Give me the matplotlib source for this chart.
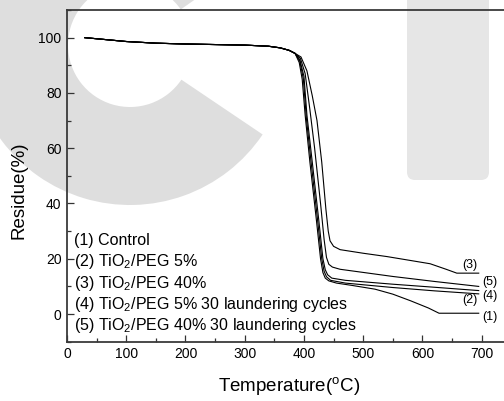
import matplotlib
matplotlib.use("Agg")
import matplotlib.pyplot as plt
from matplotlib.patches import Wedge, FancyBboxPatch
from matplotlib.ticker import MultipleLocator

plt.rcParams['font.family'] = ['Liberation Sans', 'DejaVu Sans']
plt.rcParams['mathtext.default'] = 'regular'

# ---- data ----
t_start = [30, 60, 100, 150, 200, 250, 300, 340, 360, 375, 385]
r_start = [100, 99.4, 98.6, 98.0, 97.7, 97.5, 97.3, 96.9, 96.3, 95.4, 94.3]

t1 = [392, 397, 402, 410, 421, 428, 432, 436, 442, 455, 480, 520, 550, 580, 610, 628, 695]
r1 = [91.0, 85.0, 72.0, 55.0, 34.0, 20.0, 15.0, 13.0, 12.0, 11.2, 10.4, 9.0, 7.2, 4.8, 2.2, 0.3, 0.3]

t2 = [393, 399, 404, 412, 423, 430, 434, 438, 445, 470, 550, 620, 695]
r2 = [91.5, 85.0, 71.0, 55.0, 34.0, 20.0, 15.5, 13.5, 12.2, 11.2, 9.6, 8.4, 7.3]

t3 = [395, 405, 414, 422, 430, 437, 441, 444, 450, 461, 500, 540, 585, 613, 640, 658, 695]
r3 = [93.0, 88.0, 79.0, 70.0, 55.0, 38.0, 30.0, 26.5, 24.5, 23.3, 22.0, 20.8, 19.2, 18.2, 16.2, 14.8, 14.8]

t4 = [393, 400, 405, 414, 425, 432, 436, 440, 447, 470, 550, 620, 695]
r4 = [92.0, 86.0, 72.0, 55.0, 34.0, 20.0, 16.0, 14.2, 13.0, 12.2, 10.8, 9.7, 8.5]

t5 = [394, 402, 410, 418, 428, 434, 438, 442, 448, 461, 550, 620, 695]
r5 = [92.5, 87.0, 74.0, 60.0, 40.0, 27.0, 20.5, 18.0, 17.0, 16.2, 13.6, 11.8, 10.0]

curve_t = [t1, t2, t3, t4, t5]
curve_r = [r1, r2, r3, r4, r5]
curve_tags = ['(1)', '(2)', '(3)', '(4)', '(5)']
tag_x = [714, 680, 680, 714, 714]
tag_y = [-0.9, 5.1, 17.8, 6.5, 11.7]

legend_labels = ['(1) Control',
                 '(2) TiO$_2$/PEG 5%',
                 '(3) TiO$_2$/PEG 40%',
                 '(4) TiO$_2$/PEG 5% 30 laundering cycles',
                 '(5) TiO$_2$/PEG 40% 30 laundering cycles']

xticks = [0, 100, 200, 300, 400, 500, 600, 700]
yticks = [0, 20, 40, 60, 80, 100]

# ---- figure ----
W, H = 504, 401
fig = plt.figure(figsize=(W / 100, H / 100), dpi=100)

# background watermark (decorative)
bg = fig.add_axes([0, 0, 1, 1], zorder=0)
bg.set_xlim(0, W)
bg.set_ylim(0, H)
bg.axis('off')
bg.add_patch(Wedge((130, H - 45), 160, 35, 326, width=98,
                   facecolor='#dedede', edgecolor='none'))
bg.add_patch(FancyBboxPatch((407, H - 180), 82, 220,
                            boxstyle='round,pad=0,rounding_size=8',
                            facecolor='#e6e6e6', edgecolor='none'))

ax_left = 67 / W
ax_bottom = (H - 341.7) / H
ax_w = 444.3 / W
ax_h = 331.7 / H
ax = fig.add_axes([ax_left, ax_bottom, ax_w, ax_h], zorder=1)
ax.set_facecolor('none')

for t, r in zip(curve_t, curve_r):
    ax.plot(t_start + t, r_start + r, color='black', lw=0.8)

for tag, x, y in zip(curve_tags, tag_x, tag_y):
    ax.text(x, y, tag, fontsize=9, ha='center', va='center')

y0, dy = 26.7, -7.75
for i, lab in enumerate(legend_labels):
    ax.text(11.8, y0 + i * dy, lab, fontsize=11.5, ha='left', va='center')

ax.set_xlim(0, 750)
ax.set_ylim(-10, 110)
ax.set_xticks(xticks)
ax.set_yticks(yticks)
ax.xaxis.set_minor_locator(MultipleLocator(50))
ax.yaxis.set_minor_locator(MultipleLocator(10))
ax.tick_params(which='both', direction='in', top=False, right=False,
               width=0.9, color='#333333')
ax.tick_params(which='major', length=5, labelsize=10, pad=4)
ax.tick_params(which='minor', length=2.8)

for s in ['left', 'bottom', 'top']:
    ax.spines[s].set_linewidth(1.3)
    ax.spines[s].set_color('#3a3a3a')
ax.spines['right'].set_visible(False)

ax.set_xlabel('Temperature($^{o}$C)', fontsize=13.5, labelpad=10)
ax.set_ylabel('Residue(%)', fontsize=13.5)
ax.yaxis.set_label_coords(-0.09, 0.457)

fig.savefig('out.png', dpi=100)
